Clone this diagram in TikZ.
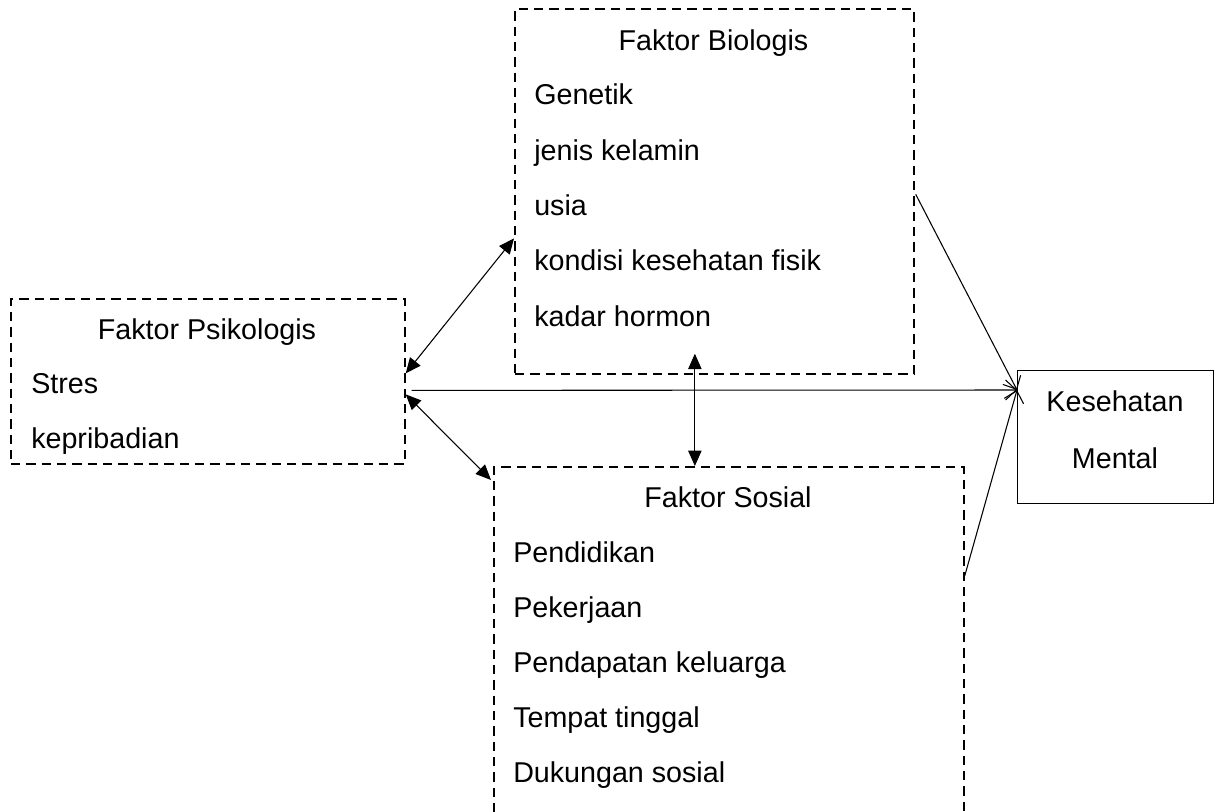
\documentclass[tikz,border=0pt]{standalone}
\usepackage{fontspec}
\setmainfont{Liberation Sans}
\usepackage{tikz}
\usetikzlibrary{arrows.meta}

\begin{document}
\begin{tikzpicture}[
    x=0.75pt, y=-0.75pt,
    factor/.style={rectangle, draw, dash pattern=on 7pt off 4.5pt, line width=1.3pt, inner sep=0, anchor=north west},
    outcome/.style={rectangle, draw, line width=1.1pt, inner sep=0, anchor=north west},
    titletext/.style={inner sep=0, anchor=base, font=\fontsize{21.5}{26}\selectfont},
    itemtext/.style={inner sep=0, anchor=base west, font=\fontsize{21.5}{26}\selectfont},
    both/.style={{Triangle[length=11.5pt,width=10pt]}-{Triangle[length=11.5pt,width=10pt]}, line width=0.8pt},
    arrow/.style={-{Straight Barb[length=8pt,width=15pt]}, line width=0.8pt}
]
    \clip (0,0) rectangle (1217,811);

    % The boxes
    \node[factor, minimum width=299.25pt, minimum height=273.75pt] (bio) at (514,8) {};
    \node[factor, minimum width=295.5pt, minimum height=123.75pt] (psi) at (10,298) {};
    \node[factor, minimum width=352.5pt, minimum height=285pt] (sos) at (493,466) {};
    \node[outcome, minimum width=147pt, minimum height=99.75pt] (kes) at (1017,370) {};

    % Faktor Biologis
    \node[titletext] (bio-title) at (713.5,50) {Faktor Biologis};
    \node[itemtext] (bio-1) at (534,104) {Genetik};
    \node[itemtext] (bio-2) at (534,160) {jenis kelamin};
    \node[itemtext] (bio-3) at (534,215) {usia};
    \node[itemtext] (bio-4) at (534,270) {kondisi kesehatan fisik};
    \node[itemtext] (bio-5) at (534,326) {kadar hormon};

    % Faktor Psikologis
    \node[titletext] (psi-title) at (207,339) {Faktor Psikologis};
    \node[itemtext] (psi-1) at (31,393) {Stres};
    \node[itemtext] (psi-2) at (31,448) {kepribadian};

    % Faktor Sosial
    \node[titletext] (sos-title) at (728,507) {Faktor Sosial};
    \node[itemtext] (sos-1) at (513,562) {Pendidikan};
    \node[itemtext] (sos-2) at (513,617) {Pekerjaan};
    \node[itemtext] (sos-3) at (513,672) {Pendapatan keluarga};
    \node[itemtext] (sos-4) at (513,727) {Tempat tinggal};
    \node[itemtext] (sos-5) at (513,782) {Dukungan sosial};

    % Kesehatan Mental
    \node[titletext] (kes-1) at (1115,411) {Kesehatan};
    \node[titletext] (kes-2) at (1115,468) {Mental};

    % Connections
    \coordinate (kes-in) at ([shift={(0,20)}]kes.north west);
    \draw[both] ([shift={(0,-8)}]psi.east) -- ([shift={(0,47)}]bio.west);
    \draw[both] ([shift={(0,13)}]psi.east) -- ([shift={(-2,14)}]sos.north west);
    \draw[both] ([shift={(-19.5,-21)}]bio.south) -- ([shift={(-34,0)}]sos.north);
    \draw[arrow] ([shift={(6,9)}]psi.east) -- (kes-in);
    \draw[arrow] ([shift={(1,3)}]bio.east) -- (kes-in);
    \draw[arrow] ([shift={(0,-81)}]sos.east) -- (kes-in);
\end{tikzpicture}
\end{document}
